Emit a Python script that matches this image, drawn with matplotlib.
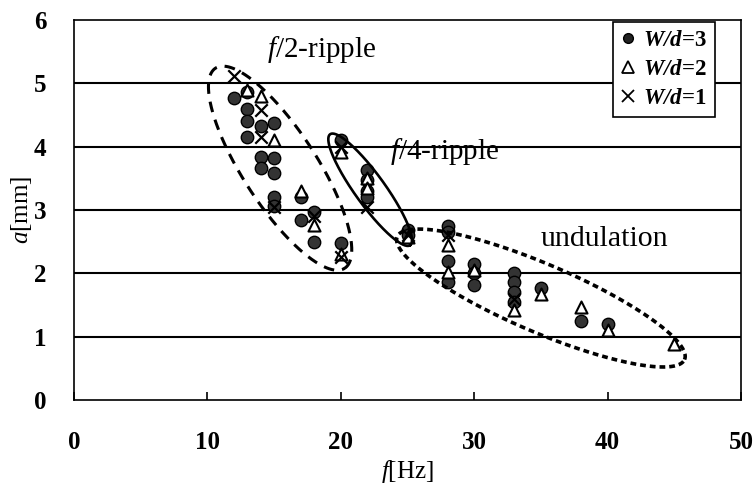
import numpy as np
import matplotlib
matplotlib.use("Agg")
import matplotlib.pyplot as plt
from matplotlib.lines import Line2D

plt.rcParams['font.family'] = ['Liberation Serif', 'DejaVu Serif']
plt.rcParams['mathtext.fontset'] = 'custom'
plt.rcParams['mathtext.it'] = 'Liberation Serif:italic'
plt.rcParams['mathtext.rm'] = 'Liberation Serif'
plt.rcParams['mathtext.bf'] = 'Liberation Serif:bold'
plt.rcParams['mathtext.bfit'] = 'Liberation Serif:italic:bold'

# ---- data ----
f_wd3 = [12, 13, 13, 13, 13, 14, 14, 14, 15, 15, 15, 15, 15, 17, 17, 18, 18, 20, 20,
         22, 22, 22, 22, 25, 25, 28, 28, 28, 28, 30, 30, 30, 33, 33, 33, 33, 35, 38, 40]
a_wd3 = [4.77, 4.87, 4.6, 4.4, 4.15, 4.33, 3.84, 3.66, 4.38, 3.82, 3.58, 3.2, 3.06, 3.2, 2.84,
         2.97, 2.5, 4.1, 2.48, 3.63, 3.47, 3.3, 3.2, 2.69, 2.6, 2.75, 2.65, 2.2, 1.86,
         2.15, 2.0, 1.82, 2.0, 1.86, 1.7, 1.55, 1.77, 1.25, 1.2]

f_wd2 = [13, 14, 15, 17, 18, 20, 20, 22, 22, 25, 28, 28, 30, 33, 35, 38, 40, 45]
a_wd2 = [4.9, 4.8, 4.1, 3.3, 2.76, 3.92, 2.3, 3.5, 3.35, 2.57, 2.45, 2.02, 2.06, 1.42,
         1.67, 1.47, 1.1, 0.88]

f_wd1 = [12, 14, 14, 15, 18, 20, 20, 22, 25, 28, 33]
a_wd1 = [5.12, 4.58, 4.15, 3.05, 2.9, 4.0, 2.26, 3.05, 2.6, 2.6, 1.6]

labels = [r"$\mathbfit{W/d}$=3", r"$\mathbfit{W/d}$=2", r"$\mathbfit{W/d}$=1"]
x_ticks = [0, 10, 20, 30, 40, 50]
y_ticks = [0, 1, 2, 3, 4, 5, 6]

# ellipse regions: centre, semi-axis vector u, conjugate semi-axis vector v (data units)
ell_half = ((15.45, 3.66), (4.84, -1.58), (2.33, 0.317))
ell_quarter = ((22.2, 3.32), (3.0, -0.876), (0.913, 0.139))
ell_undul = ((35.0, 1.61), (10.77, -0.971), (1.005, 0.493))

# ---- figure ----
fig = plt.figure(figsize=(7.54, 4.94), dpi=100)
ax = fig.add_axes([74 / 754, 1 - 400 / 494, (741 - 74) / 754, (400 - 20) / 494])
ax.set_xlim(0, 50)
ax.set_ylim(0, 6)

for y in y_ticks[1:-1]:
    ax.axhline(y, color='black', lw=1.5, zorder=1)

for sp in ax.spines.values():
    sp.set_linewidth(1.2)

ax.scatter(f_wd3, a_wd3, s=80, marker='o', facecolor='#333333', edgecolor='black',
           linewidths=1.0, zorder=3)
ax.scatter(f_wd2, a_wd2, s=75, marker='^', facecolor='white', edgecolor='black',
           linewidths=1.5, zorder=4)
ax.scatter(f_wd1, a_wd1, s=80, marker='x', color='black', linewidths=1.6, zorder=5)

t = np.linspace(0, 2 * np.pi, 500)


def draw_ell(e, **kw):
    (cx, cy), (ux, uy), (vx, vy) = e
    ax.plot(cx + ux * np.cos(t) + vx * np.sin(t), cy + uy * np.cos(t) + vy * np.sin(t),
            color='black', zorder=6, **kw)


draw_ell(ell_half, lw=2.2, linestyle=(0, (3.5, 2.6)), dash_capstyle='butt')
draw_ell(ell_quarter, lw=1.9, linestyle='-')
draw_ell(ell_undul, lw=2.6, linestyle=(0, (1.6, 1.1)), dash_capstyle='butt')

ax.text(18.6, 5.53, r"$f$/2-ripple", fontsize=21, ha='center', va='center', zorder=7)
ax.text(27.75, 3.92, r"$f$/4-ripple", fontsize=21, ha='center', va='center', zorder=7)
ax.text(39.75, 2.55, "undulation", fontsize=21.5, ha='center', va='center', zorder=7)

ax.set_xticks(x_ticks)
ax.set_yticks(y_ticks)
ax.tick_params(axis='x', direction='in', length=6, width=1.2, pad=22, labelsize=18)
ax.tick_params(axis='y', length=0, pad=20, labelsize=18)
for lab in ax.get_xticklabels() + ax.get_yticklabels():
    lab.set_fontweight('bold')

ax.set_xlabel(r"$f$[Hz]", fontsize=18, labelpad=3)
ax.set_ylabel(r"$a$[mm]", fontsize=18, labelpad=0)

handles = [
    Line2D([], [], marker='o', ls='none', markersize=7, markerfacecolor='#222222',
           markeredgecolor='black'),
    Line2D([], [], marker='^', ls='none', markersize=8, markerfacecolor='white',
           markeredgecolor='black', markeredgewidth=1.3),
    Line2D([], [], marker='x', ls='none', markersize=8, color='black', markeredgewidth=1.3),
]
leg = ax.legend(handles, labels, loc='upper right', bbox_to_anchor=(0.961, 0.995),
                frameon=True, fancybox=False, edgecolor='black', framealpha=1,
                prop={'size': 16.5, 'weight': 'bold'}, handlelength=0.6, handletextpad=0.35,
                labelspacing=0.35, borderpad=0.35, borderaxespad=0.0)
leg.get_frame().set_linewidth(1.2)
leg.set_zorder(10)

fig.savefig("out.png", dpi=100)
